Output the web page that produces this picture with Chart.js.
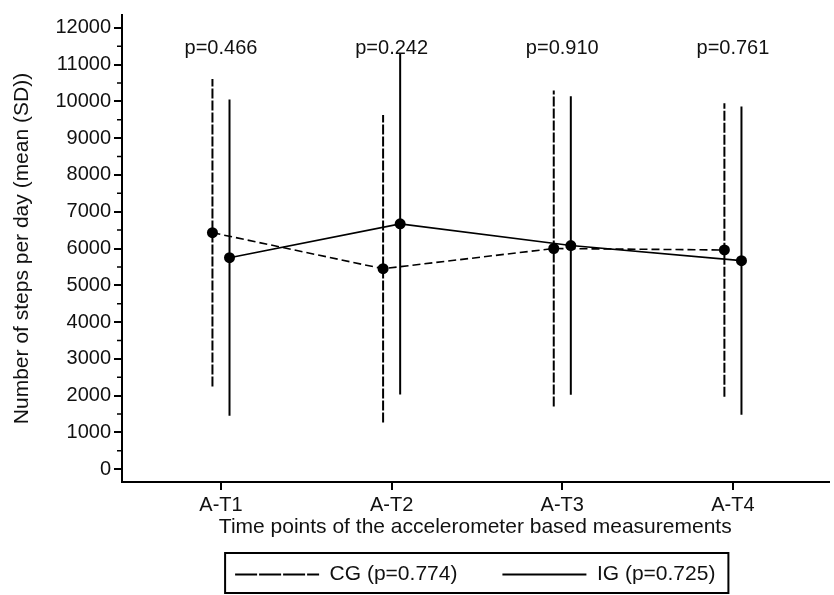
<!DOCTYPE html>
<html>
<head>
<meta charset="utf-8">
<script src="https://cdn.jsdelivr.net/npm/chart.js@4.4.1/dist/chart.umd.min.js"></script>
<style>
  html, body { margin: 0; padding: 0; background: #fff; }
</style>
</head>
<body>
<canvas id="stepsChart" width="834" height="595"></canvas>
<script>
const timePoints = ['A-T1', 'A-T2', 'A-T3', 'A-T4'];
const pLabels = ['p=0.466', 'p=0.242', 'p=0.910', 'p=0.761'];
const legendLabels = ['CG (p=0.774)', 'IG (p=0.725)'];
const cgMean = [6430, 5450, 6000, 5960];
const cgSD = [4180, 4180, 4300, 3990];
const igMean = [5750, 6670, 6080, 5670];
const igSD = [4300, 4640, 4060, 4190];
const yTicks = [0, 1000, 2000, 3000, 4000, 5000, 6000, 7000, 8000, 9000, 10000, 11000, 12000];

const groupShift = 0.05;
const pLabelLevel = 11430;
const minorStep = 500;
const ink = '#111';

Chart.defaults.font.family = "'Liberation Sans', Arial, sans-serif";
Chart.defaults.font.size = 20;
Chart.defaults.color = ink;

function meanPoints(means, shift) {
  return means.map((m, i) => ({ x: i + 1 + shift, y: m }));
}

// each bar is lo -> hi, then a null point to break the line
function errorBarPoints(means, sds, shift) {
  const pts = [];
  means.forEach((m, i) => {
    const x = i + 1 + shift;
    pts.push({ x: x, y: m - sds[i] }, { x: x, y: m + sds[i] }, { x: x, y: null });
  });
  return pts;
}

const whiteBg = {
  id: 'whiteBg',
  beforeDraw(chart) {
    const ctx = chart.ctx;
    ctx.save();
    ctx.fillStyle = '#fff';
    ctx.fillRect(0, 0, chart.width, chart.height);
    ctx.restore();
  }
};

const extras = {
  id: 'extras',
  afterDraw(chart) {
    const ctx = chart.ctx;
    const xs = chart.scales.x, ys = chart.scales.y;
    const left = chart.chartArea.left;
    ctx.save();
    // minor ticks on y axis
    ctx.strokeStyle = '#000';
    ctx.lineWidth = 1.5;
    ctx.beginPath();
    yTicks.slice(0, -1).forEach(v => {
      const py = ys.getPixelForValue(v + minorStep);
      ctx.moveTo(left - 5, py);
      ctx.lineTo(left, py);
    });
    ctx.stroke();

    // p values above each time point
    ctx.fillStyle = ink;
    ctx.font = "20px 'Liberation Sans', Arial, sans-serif";
    ctx.textAlign = 'center';
    ctx.textBaseline = 'middle';
    pLabels.forEach((t, i) => {
      ctx.fillText(t, xs.getPixelForValue(i + 1), ys.getPixelForValue(pLabelLevel));
    });

    // frame around the legend
    const hb = chart.legend.legendHitBoxes;
    if (hb && hb.length) {
      const last = hb[hb.length - 1];
      ctx.strokeStyle = '#000';
      ctx.lineWidth = 2;
      ctx.strokeRect(hb[0].left - 10, hb[0].top - 11,
        last.left + last.width + 13 - (hb[0].left - 10), hb[0].height + 19);
    }
    ctx.restore();
  }
};

const ctx = document.getElementById('stepsChart');
new Chart(ctx, {
  type: 'line',
  data: {
    datasets: [
      {
        label: 'CG sd',
        data: errorBarPoints(cgMean, cgSD, -groupShift),
        borderColor: '#000',
        borderWidth: 2,
        borderDash: [10, 2],
        pointRadius: 0,
        spanGaps: false
      },
      {
        label: 'IG sd',
        data: errorBarPoints(igMean, igSD, groupShift),
        borderColor: '#000',
        borderWidth: 2,
        pointRadius: 0,
        spanGaps: false
      },
      {
        label: legendLabels[0],
        data: meanPoints(cgMean, -groupShift),
        borderColor: '#000',
        borderWidth: 1.6,
        borderDash: [8, 4],
        pointRadius: 5.5,
        pointBackgroundColor: '#000',
        pointBorderWidth: 0
      },
      {
        label: legendLabels[1],
        data: meanPoints(igMean, groupShift),
        borderColor: '#000',
        borderWidth: 1.6,
        pointRadius: 5.5,
        pointBackgroundColor: '#000',
        pointBorderWidth: 0
      }
    ]
  },
  options: {
    responsive: false,
    animation: false,
    events: [],
    layout: { padding: { top: 12, right: 0, left: 0, bottom: 0 } },
    plugins: {
      tooltip: { enabled: false },
      legend: {
        position: 'bottom',
        fullSize: false,
        labels: {
          usePointStyle: true,
          pointStyleWidth: 84,
          padding: 45,
          color: ink,
          font: { size: 21 },
          generateLabels: () => [
            { text: legendLabels[0], pointStyle: 'line', lineDash: [22, 2], lineWidth: 2,
              strokeStyle: '#000', fillStyle: '#000', fontColor: ink, datasetIndex: 2 },
            { text: legendLabels[1], pointStyle: 'line', lineDash: [], lineWidth: 2,
              strokeStyle: '#000', fillStyle: '#000', fontColor: ink, datasetIndex: 3 }
          ]
        }
      }
    },
    scales: {
      x: {
        type: 'linear',
        min: 0.42,
        max: 4.56,
        afterBuildTicks: s => { s.ticks = timePoints.map((_, i) => ({ value: i + 1 })); },
        afterFit: s => { s.height = 37; },
        ticks: {
          padding: 3,
          maxRotation: 0,
          color: ink,
          callback: v => timePoints[v - 1]
        },
        grid: { drawOnChartArea: false, tickLength: 8, color: '#000', lineWidth: 2 },
        border: { color: '#000', width: 2 },
        title: {
          display: true,
          text: 'Time points of the accelerometer based measurements',
          color: ink,
          font: { size: 21 },
          padding: { top: 0, bottom: -21 }
        }
      },
      y: {
        type: 'linear',
        min: -350,
        max: 12350,
        afterBuildTicks: s => { s.ticks = yTicks.map(v => ({ value: v })); },
        afterFit: s => { s.width = 122; },
        ticks: { padding: 3, color: ink, callback: v => String(v) },
        grid: { drawOnChartArea: false, tickLength: 8, color: '#000', lineWidth: 2 },
        border: { color: '#000', width: 2 },
        title: {
          display: true,
          text: 'Number of steps per day (mean (SD))',
          color: ink,
          font: { size: 21 },
          padding: { top: 10, bottom: 0 }
        }
      }
    }
  },
  plugins: [whiteBg, extras]
});
</script>
</body>
</html>
